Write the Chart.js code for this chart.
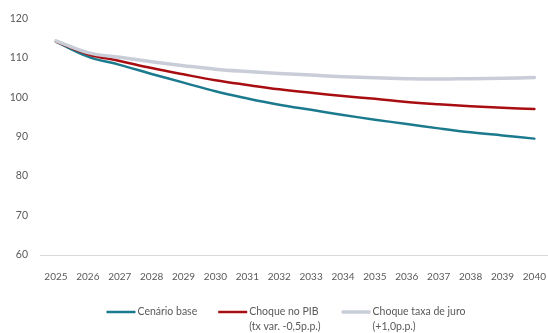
<!DOCTYPE html>
<html lang="pt">
<head>
<meta charset="UTF-8">
<title>Dívida pública - cenários</title>
<script src="https://cdn.jsdelivr.net/npm/chart.js@4.4.1/dist/chart.umd.min.js"></script>
<style>
    html, body { margin: 0; padding: 0; background: #fff; overflow: hidden; }
</style>
</head>
<body>
<canvas id="grafico" width="554" height="333"></canvas>
<script>
    // anos do horizonte de projeção
    const anos = ['2025', '2026', '2027', '2028', '2029', '2030', '2031', '2032',
                  '2033', '2034', '2035', '2036', '2037', '2038', '2039', '2040'];

    // trajetórias (% do PIB)
    const cenarioBase = [114.1, 110.3, 108.2, 105.9, 103.7, 101.5, 99.7, 98.1,
                         96.8, 95.5, 94.3, 93.2, 92.1, 91.1, 90.3, 89.5];
    const choquePib   = [114.1, 110.9, 109.2, 107.4, 105.8, 104.3, 103.1, 102.0,
                         101.1, 100.3, 99.6, 98.8, 98.2, 97.7, 97.3, 97.0];
    const choqueJuro  = [114.3, 111.3, 110.1, 109.0, 108.0, 107.1, 106.5, 106.0,
                         105.6, 105.2, 104.9, 104.7, 104.6, 104.7, 104.8, 105.0];

    const ticksY = [60, 70, 80, 90, 100, 110, 120];

    const rotulos = [
        ['Cenário base'],
        ['Choque no PIB', '(tx var. -0,5p.p.)'],
        ['Choque taxa de juro', '(+1,0p.p.)']
    ];

    const corTexto = '#595959';
    const fonte = 'Lato, "Open Sans", sans-serif';

    // legenda em baixo, com rótulos em duas linhas
    const legendaBaixo = {
        id: 'legendaBaixo',
        afterDraw(chart) {
            const c = chart.ctx;
            const sets = chart.data.datasets;
            const traco = 29, folga = 2, espaco = 21;
            c.save();
            c.font = '10.5px ' + fonte;
            c.textBaseline = 'middle';
            c.fillStyle = corTexto;
            const larguras = sets.map((ds, i) =>
                traco + folga + Math.max(...rotulos[i].map(t => c.measureText(t).width)));
            const total = larguras.reduce((a, b) => a + b, 0) + espaco * (sets.length - 1);
            let x = 286 - total / 2;
            const y = 312;
            sets.forEach((ds, i) => {
                c.strokeStyle = ds.borderColor;
                c.lineWidth = ds.borderWidth;
                c.beginPath();
                c.moveTo(x, y);
                c.lineTo(x + traco, y);
                c.stroke();
                rotulos[i].forEach((linha, k) => {
                    c.fillText(linha, x + traco + folga, y + k * 15);
                });
                x += larguras[i] + espaco;
            });
            c.restore();
        }
    };

    new Chart(document.getElementById('grafico'), {
        type: 'line',
        data: {
            labels: anos,
            datasets: [
                {
                    label: rotulos[0].join(' '),
                    data: cenarioBase,
                    borderColor: '#1b7a8e',
                    borderWidth: 2.5,
                    order: 2
                },
                {
                    label: rotulos[1].join(' '),
                    data: choquePib,
                    borderColor: '#a80d12',
                    borderWidth: 2.5,
                    order: 1
                },
                {
                    label: rotulos[2].join(' '),
                    data: choqueJuro,
                    borderColor: '#c9cdd7',
                    borderWidth: 3.5,
                    order: 0
                }
            ]
        },
        options: {
            responsive: false,
            animation: false,
            devicePixelRatio: 1,
            elements: {
                point: { radius: 0 },
                line: { tension: 0.4, borderCapStyle: 'round' }
            },
            layout: { padding: { top: 18, bottom: 48, left: 0, right: 0 } },
            scales: {
                x: {
                    offset: true,
                    grid: { display: false },
                    border: { display: true, color: '#d9d9d9', width: 1 },
                    ticks: {
                        color: corTexto,
                        font: { family: fonte, size: 10 },
                        padding: 8,
                        maxRotation: 0,
                        autoSkip: false
                    },
                    afterFit(scale) { scale.height = 30; }
                },
                y: {
                    min: 60,
                    max: 120,
                    grid: { display: false, drawTicks: false },
                    border: { display: false },
                    afterBuildTicks(scale) {
                        scale.ticks = ticksY.map(v => ({ value: v }));
                    },
                    ticks: {
                        color: corTexto,
                        font: { family: fonte, size: 10.5 },
                        padding: 12
                    },
                    afterFit(scale) { scale.width = 40; }
                }
            },
            plugins: {
                legend: { display: false },
                tooltip: { enabled: false }
            }
        },
        plugins: [legendaBaixo]
    });
</script>
</body>
</html>
